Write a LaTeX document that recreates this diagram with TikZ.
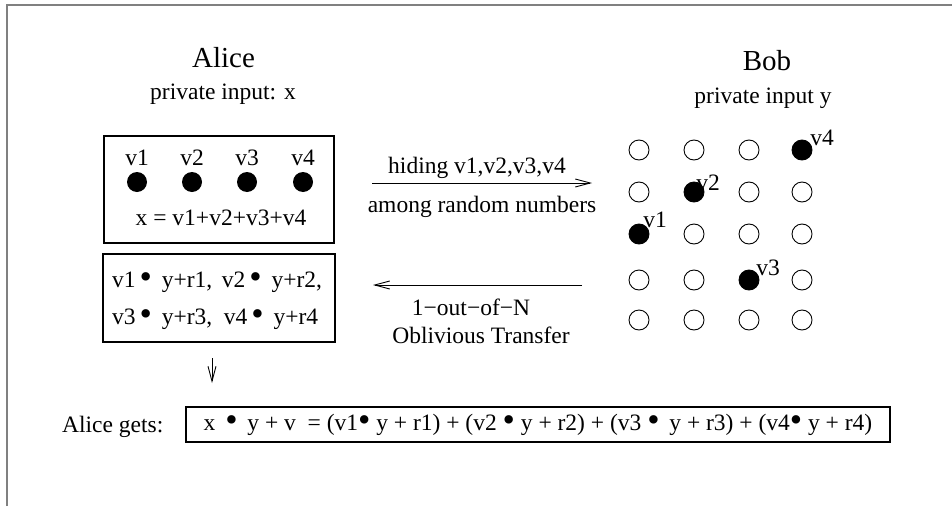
\documentclass[tikz,border=0pt]{standalone}
\usepackage{fontspec}
\setmainfont{Liberation Serif}
\usepackage{graphicx}
\usetikzlibrary{positioning,arrows.meta}

\newcommand{\bdot}{\raisebox{-0.07em}{\scalebox{1.5}{•}}}

\tikzset{
  txt/.style={font=\fontsize{23.5}{28}\selectfont, inner sep=0pt},
  party/.style={font=\fontsize{29}{34}\selectfont, inner sep=0pt, anchor=base},
  box/.style={draw, line width=1.2pt, inner sep=0pt},
  dot/.style={circle, fill, minimum size=20pt, inner sep=0pt},
  ring/.style={circle, draw, line width=0.9pt, minimum size=20pt, inner sep=0pt},
  msg/.style={line width=0.9pt, -{Straight Barb[length=15pt,width=8pt]}},
}

\begin{document}
\begin{tikzpicture}[x=1pt, y=-1pt]
\useasboundingbox (0,0) rectangle (952,506);
% frame
\draw[gray, line width=2pt] (7,506) -- (7,5) -- (952,5);

% parties
\node[party] (alice) at (223.5,67.5) {Alice};
\node[txt, anchor=base] (ain) at (223,99) {private input: x};
\node[party] (bob) at (767,70) {Bob};
\node[txt, anchor=base] (bin) at (763,103) {private input y};

% Alice's secret split
\node[box, minimum width=230, minimum height=107] (split) at (219,189.5) {};
\foreach \i/\x in {1/137,2/192,3/247,4/303} {
  \node[dot] (a\i) at (\x,182) {};
  \node[txt, anchor=base] (la\i) at (\x,165) {v\i};
}
\node[txt, anchor=base] (sum) at (221,225) {x = v1+v2+v3+v4};

% Bob's grid of numbers
\foreach \c/\x in {1/639,2/694,3/749,4/802} {
  \foreach \r/\y in {1/150,2/192,3/234,4/280,5/320} {
    \node[ring] (g\c\r) at (\x,\y) {};
  }
}
\node[dot] (v4) at (g41) {};
\node[dot] (v2) at (g22) {};
\node[dot] (v1) at (g13) {};
\node[dot] (v3) at (g34) {};
\node[txt, anchor=south west] at ([xshift=1pt,yshift=-3pt]v4.north east) {v4};
\node[txt, anchor=south west] at ([xshift=-5pt,yshift=-6pt]v2.north east) {v2};
\node[txt, anchor=south west] at ([xshift=-3pt,yshift=-1pt]v1.north east) {v1};
\node[txt, anchor=south west] at ([xshift=0pt,yshift=-3pt]v3.north east) {v3};

% products received
\node[box, minimum width=232, minimum height=88] (prod) at (219,298) {};
\node[txt, anchor=base west] (p1) at (112,287) {v1\,\bdot\ \,y+r1, \,v2\,\bdot\ \,y+r2,};
\node[txt, anchor=base west] (p2) at (112,324) {v3\,\bdot\ \,y+r3, \ v4\,\bdot\ \,y+r4};

% messages
\coordinate (h0) at (372,183);
\coordinate (h1) at (592,183);
\draw[msg] (h0) -- (h1);
\node[txt, anchor=base] (hide) at (477,173) {hiding v1,v2,v3,v4};
\node[txt, anchor=base] (among) at (482,212) {among random numbers};

\coordinate (o0) at (582,285);
\coordinate (o1) at (373,285);
\draw[msg] (o0) -- (o1);
\node[txt, anchor=base] (oot) at (471,315) {1−out−of−N};
\node[txt, anchor=base] (ot) at (481,343) {Oblivious Transfer};

\coordinate (d0) at (212,358);
\coordinate (d1) at (212,383);
\draw[msg] (d0) -- (d1);

% result
\node[txt, anchor=base west] (gets) at (62,432) {Alice gets:};
\node[box, txt, minimum width=704, minimum height=35] (res) at (538,424.5)
  {x \,\bdot\ \,y + v \ = (v1\bdot\ y + r1) + (v2 \bdot\ y + r2) + (v3 \bdot\ \,y + r3) + (v4\bdot\ y + r4)};
\end{tikzpicture}
\end{document}
